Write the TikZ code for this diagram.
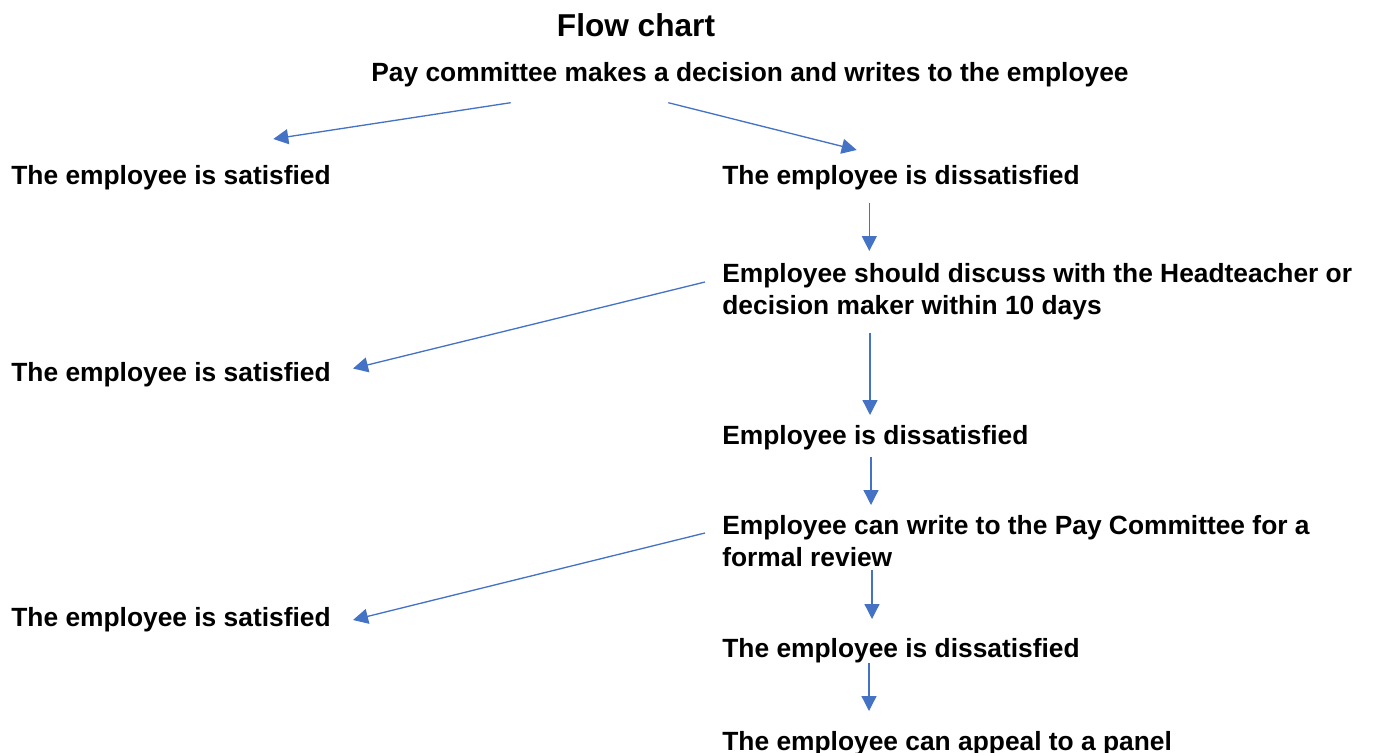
\documentclass[tikz,border=0pt]{standalone}
\usepackage{fontspec}
\setmainfont{Liberation Sans}
\usetikzlibrary{arrows.meta}
\definecolor{flowblue}{HTML}{4472C4}
\tikzstyle{txt}=[inner sep=0pt,anchor=base west,align=left,font=\fontsize{15}{18.1}\selectfont\bfseries]
\tikzstyle{flow}=[draw=flowblue,line width=0.75pt,-{Triangle[length=0.3cm,width=0.3cm]}]

\begin{document}
\begin{tikzpicture}[x=0.02cm,y=-0.02cm]
    \useasboundingbox (0,0) rectangle (1373,753);
    \node[txt, anchor=base, font=\fontsize{18}{21}\selectfont\bfseries] (title) at (636,37) {Flow chart};
    \node[txt, anchor=base] (pay) at (750,82) {Pay committee makes a decision and writes to the employee};
    % left column
    \node[txt] (sat1) at (11,184.5) {The employee is satisfied};
    \node[txt] (sat2) at (11,381) {The employee is satisfied};
    \node[txt] (sat3) at (11,626.5) {The employee is satisfied};
    % right column (two-line nodes sit on their last line)
    \node[txt] (diss1) at (722,184.5) {The employee is dissatisfied};
    \node[txt] (talk) at (722,314.5) {Employee should discuss with the Headteacher or\\decision maker within 10 days};
    \node[txt] (diss2) at (722,444.5) {Employee is dissatisfied};
    \node[txt] (review) at (722,566.5) {Employee can write to the Pay Committee for a\\formal review};
    \node[txt] (diss3) at (722,657) {The employee is dissatisfied};
    \node[txt] (appeal) at (722,750) {The employee can appeal to a panel};
    % arrows
    \draw[flow] ([shift={(-239.3,20.7)}]pay.base) -- ([shift={(262.3,-45.5)}]sat1.base west);
    \draw[flow] ([shift={(-81.7,20.7)}]pay.base) -- ([shift={(134.7,-34.5)}]diss1.base west);
    \draw[flow] ([shift={(147.3,18.2)}]diss1.base west) -- ([shift={(147.3,-63.5)}]talk.base west);
    \draw[flow] ([shift={(-17,-32.5)}]talk.base west) -- ([shift={(342,-12.5)}]sat2.base west);
    \draw[flow] ([shift={(148,18.5)}]talk.base west) -- ([shift={(148,-29.5)}]diss2.base west);
    \draw[flow] ([shift={(149,12.2)}]diss2.base west) -- ([shift={(149,-61.5)}]review.base west);
    \draw[flow] ([shift={(-17,-33.5)}]review.base west) -- ([shift={(342,-6.5)}]sat3.base west);
    \draw[flow] ([shift={(150,3.5)}]review.base west) -- ([shift={(150,-38)}]diss3.base west);
    \draw[flow] ([shift={(147,5.7)}]diss3.base west) -- ([shift={(147,-39)}]appeal.base west);
\end{tikzpicture}
\end{document}
